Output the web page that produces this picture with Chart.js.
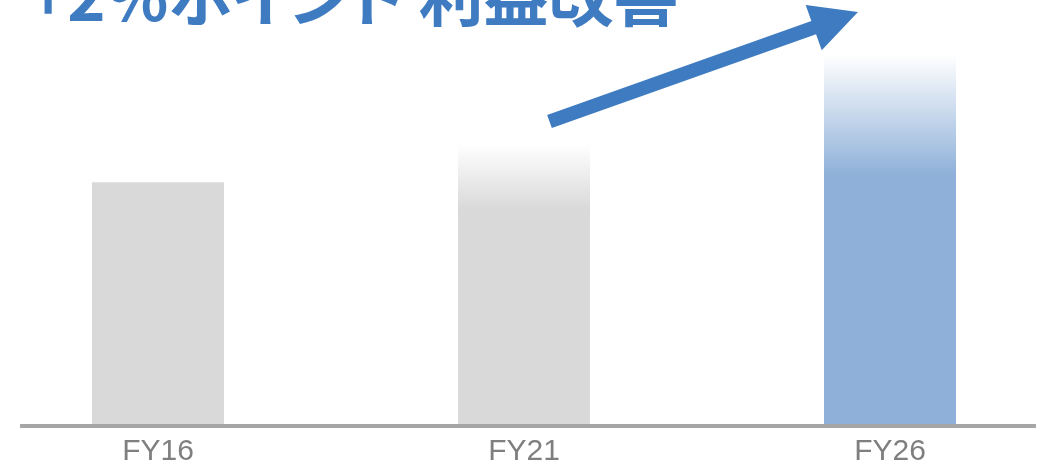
<!DOCTYPE html>
<html>
<head>
<meta charset="utf-8">
<script src="https://cdn.jsdelivr.net/npm/chart.js@4.4.1/dist/chart.umd.min.js"></script>
<style>
  html, body { margin: 0; padding: 0; background: #fff; overflow: hidden; }
  body { width: 1046px; height: 469px; position: relative; }
  #title { position: absolute; left: 29px; top: -39px; font: bold 65px "Noto Sans CJK JP"; line-height: 65px;
           color: #3f7bc1; white-space: nowrap; font-feature-settings: "palt"; }
  #wrap { position: absolute; left: -25px; top: 0; width: 1098px; height: 480px; }
</style>
</head>
<body>
<div id="wrap"><canvas id="ResultChart"></canvas></div>
<div id="title">+2%ポイント 利益改善</div>
<script>
var labels = ['FY16', 'FY21', 'FY26'];
var values = [5.7, 6.6, 8.7];
var yMax = 10;

// look of each bar: solid colour and how many px at the top fade to white
var barColor = ['#d9d9d9', '#d9d9d9', '#8eb0d9'];
var fadePx = [0, 65, 120];

var shiftX = 25; // canvas starts 25px left of the page

function barFill(c) {
  var chart = c.chart;
  if (!chart.chartArea) return barColor[c.dataIndex];
  var i = c.dataIndex;
  if (!fadePx[i]) return barColor[i];
  var top = chart.scales.y.getPixelForValue(values[i]);
  var g = chart.ctx.createLinearGradient(0, top, 0, top + fadePx[i]);
  g.addColorStop(0, 'rgba(255,255,255,1)');
  g.addColorStop(1, barColor[i]);
  return g;
}

var decor = {
  id: 'decor',
  afterDatasetsDraw: function (chart) {
    var ctx = chart.ctx;
    var y0 = chart.scales.y.getPixelForValue(0);
    ctx.save();
    // base line
    ctx.strokeStyle = '#a6a6a6';
    ctx.lineWidth = 4;
    ctx.beginPath();
    ctx.moveTo(20 + shiftX, y0 + 2);
    ctx.lineTo(1036 + shiftX, y0 + 2);
    ctx.stroke();
    // rising arrow
    var sx = 549.5 + shiftX, sy = 121.5, tx = 858 + shiftX, ty = 12;
    var dx = tx - sx, dy = ty - sy, len = Math.sqrt(dx * dx + dy * dy);
    var ux = dx / len, uy = dy / len, px = -uy, py = ux;
    var hw = 7, hh = 24, hl = 47;
    var bx = tx - ux * hl, by = ty - uy * hl;
    ctx.fillStyle = '#3f7bc1';
    ctx.beginPath();
    ctx.moveTo(sx + px * hw, sy + py * hw);
    ctx.lineTo(bx + px * hw, by + py * hw);
    ctx.lineTo(bx + px * hh, by + py * hh);
    ctx.lineTo(tx, ty);
    ctx.lineTo(bx - px * hh, by - py * hh);
    ctx.lineTo(bx - px * hw, by - py * hw);
    ctx.lineTo(sx - px * hw, sy - py * hw);
    ctx.closePath();
    ctx.fill();
    ctx.restore();
  }
};

var ctx = document.getElementById('ResultChart').getContext('2d');
var ResultChart = new Chart(ctx, {
  type: 'bar',
  data: {
    labels: labels,
    datasets: [{
      data: values,
      backgroundColor: barFill,
      borderWidth: 0,
      barPercentage: 132 / 366,
      categoryPercentage: 1
    }]
  },
  options: {
    responsive: true,
    maintainAspectRatio: false,
    animation: false,
    layout: { padding: { top: 0, bottom: 0, left: 0, right: 0 } },
    plugins: { legend: { display: false }, tooltip: { enabled: false } },
    scales: {
      x: {
        grid: { display: false, drawTicks: false },
        border: { display: false },
        ticks: { color: '#7f7f7f', padding: 10, font: { family: 'Liberation Sans', size: 30 } }
      },
      y: { display: false, min: 0, max: yMax }
    }
  },
  plugins: [decor]
});
</script>
</body>
</html>
